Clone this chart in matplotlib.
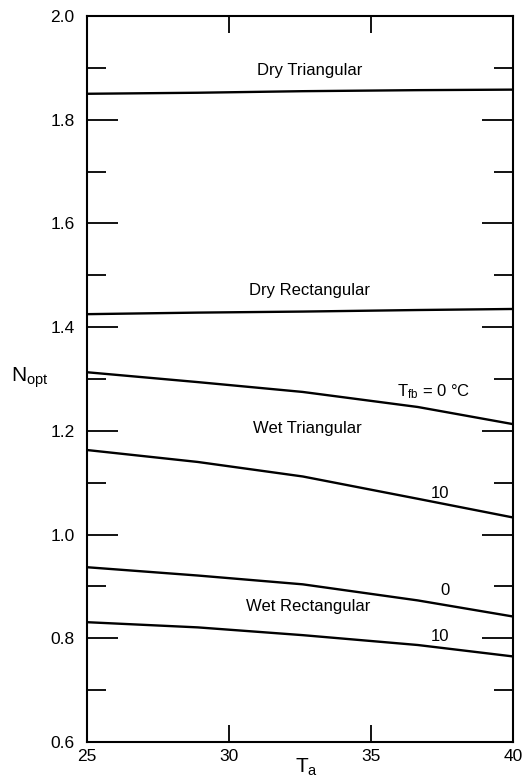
import matplotlib
matplotlib.use("Agg")
import matplotlib.pyplot as plt
from matplotlib.ticker import MultipleLocator, FixedLocator

plt.rcParams["font.family"] = ["Liberation Sans", "DejaVu Sans"]
plt.rcParams["mathtext.fontset"] = "custom"
plt.rcParams["mathtext.rm"] = "Liberation Sans"
plt.rcParams["mathtext.it"] = "Liberation Sans"

# values (T_a, N_opt)
ta = [25, 28.9, 32.6, 36.65, 40]
dry_tri = [1.850, 1.852, 1.855, 1.857, 1.858]
dry_rect = [1.425, 1.428, 1.430, 1.433, 1.435]
wet_tri_0 = [1.313, 1.294, 1.275, 1.246, 1.213]
wet_tri_10 = [1.163, 1.140, 1.112, 1.069, 1.033]
wet_rect_0 = [0.937, 0.921, 0.904, 0.873, 0.842]
wet_rect_10 = [0.831, 0.821, 0.806, 0.787, 0.765]

x_ticks = [25, 30, 35, 40]

fig = plt.figure(figsize=(5.26, 7.84), dpi=100)
ax = fig.add_axes([0.1654, 0.0536, 0.8096, 0.926])

for s in [dry_tri, dry_rect, wet_tri_0, wet_tri_10, wet_rect_0, wet_rect_10]:
    ax.plot(ta, s, color="black", lw=1.7, solid_capstyle="butt",
            solid_joinstyle="round")

ax.set_xlim(25, 40)
ax.set_ylim(0.6, 2.0)
ax.xaxis.set_major_locator(FixedLocator(x_ticks))
ax.yaxis.set_major_locator(MultipleLocator(0.2))
ax.yaxis.set_minor_locator(MultipleLocator(0.1))
ax.set_xticklabels([str(v) for v in x_ticks])
ax.set_yticklabels([f"{v:.1f}" for v in ax.get_yticks()])

for sp in ax.spines.values():
    sp.set_linewidth(1.5)

ax.tick_params(axis="y", which="major", direction="in", length=22, width=1.3,
               left=True, right=True, labelsize=12.5, pad=9)
ax.tick_params(axis="y", which="minor", direction="in", length=14, width=1.3,
               left=True, right=True)
ax.tick_params(axis="x", which="major", direction="in", length=12, width=1.3,
               bottom=True, top=True, labelsize=12.5, pad=5)

fs = 12
ax.text(32.85, 1.895, "Dry Triangular", ha="center", va="center", fontsize=fs)
ax.text(32.85, 1.471, "Dry Rectangular", ha="center", va="center", fontsize=fs)
ax.text(32.75, 1.204, "Wet Triangular", ha="center", va="center", fontsize=fs)
ax.text(32.8, 0.861, "Wet Rectangular", ha="center", va="center", fontsize=fs)
ax.text(37.2, 1.275, r"T$_{\rm fb}$ = 0 °C", ha="center", va="center", fontsize=fs)
ax.text(37.45, 1.079, "10", ha="center", va="center", fontsize=fs)
ax.text(37.6, 0.892, "0", ha="center", va="center", fontsize=fs)
ax.text(37.45, 0.803, "10", ha="center", va="center", fontsize=fs)

fig.text(11 / 526, 1 - 378 / 784, r"N$_{\rm opt}$", ha="left", va="center", fontsize=15)
fig.text(307 / 526, 1 - 767 / 784, r"T$_{\rm a}$", ha="center", va="center", fontsize=15)

fig.savefig("out.png", dpi=100)
